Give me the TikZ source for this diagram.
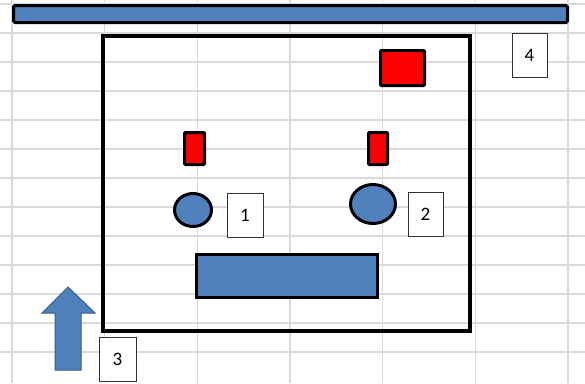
\documentclass[tikz,border=0pt]{standalone}
\usepackage{fontspec}
\setmainfont{Carlito}
\usetikzlibrary{shapes.geometric}
\definecolor{xblue}{HTML}{4F81BD}
\definecolor{xblueedge}{HTML}{385D8A}
\definecolor{xred}{HTML}{FF0000}
\definecolor{xgrid}{HTML}{DADADA}
\begin{document}
\begin{tikzpicture}[x=1pt,y=-1pt,
  gridline/.style={draw=xgrid,line width=1.2pt},
  bluebar/.style={draw=black,line width=3pt,fill=xblue,inner sep=0pt,rounded corners=1.5pt},
  redbox/.style={draw=black,line width=3pt,fill=xred,inner sep=0pt,rounded corners=1pt},
  bluedot/.style={draw=black,line width=3pt,fill=xblue,inner sep=0pt,ellipse},
  numbox/.style={draw=black!80,line width=0.8pt,fill=white,inner sep=0pt,
    minimum width=35pt,minimum height=44pt,font=\fontsize{19}{20}\selectfont}]
\useasboundingbox (0,0) rectangle (585,383);
\fill[white] (0,0) rectangle (585,383);
% spreadsheet grid
\foreach \y in {4,33,62,91,120,149,178,207,236,265,294,323,352}
  \draw[gridline] (0,\y) -- (585,\y);
\foreach \x in {12,104.7,197.4,290,382.8,475.5,568}
  \draw[gridline] (\x,0) -- (\x,383);
% top bar
\node[bluebar,minimum width=554pt,minimum height=17pt] (bar) at (290.5,14) {};
% big frame
\node[draw=black,line width=4pt,inner sep=0pt,minimum width=367.2pt,minimum height=295.8pt] (frame) at (286.1,183.4) {};
% red boxes
\node[redbox,minimum width=20pt,minimum height=32pt] (r1) at (194.5,148.5) {};
\node[redbox,minimum width=19pt,minimum height=32pt] (r2) at (378,148.5) {};
\node[redbox,minimum width=44pt,minimum height=35pt] (r3) at (402.5,68) {};
% blue circles
\node[bluedot,minimum width=37pt,minimum height=33pt] (c1) at (193,210) {};
\node[bluedot,minimum width=45pt,minimum height=39pt] (c2) at (373,204) {};
% blue rectangle
\node[bluebar,rounded corners=0pt,minimum width=181pt,minimum height=43pt] (slab) at (287,276) {};
% up arrow
\filldraw[fill=xblue,draw=xblueedge,line width=1pt]
  (55,370) -- (55,313) -- (42,313) -- (68,287) -- (95,313) -- (81,313) -- (81,370) -- cycle;
% number labels
\node[numbox,minimum width=36pt] (n1) at (245,215) {1};
\node[numbox] (n2) at (425.5,214) {2};
\node[numbox,minimum width=37pt] (n3) at (117.5,359) {3};
\node[numbox] (n4) at (529.5,55) {4};
\end{tikzpicture}
\end{document}
